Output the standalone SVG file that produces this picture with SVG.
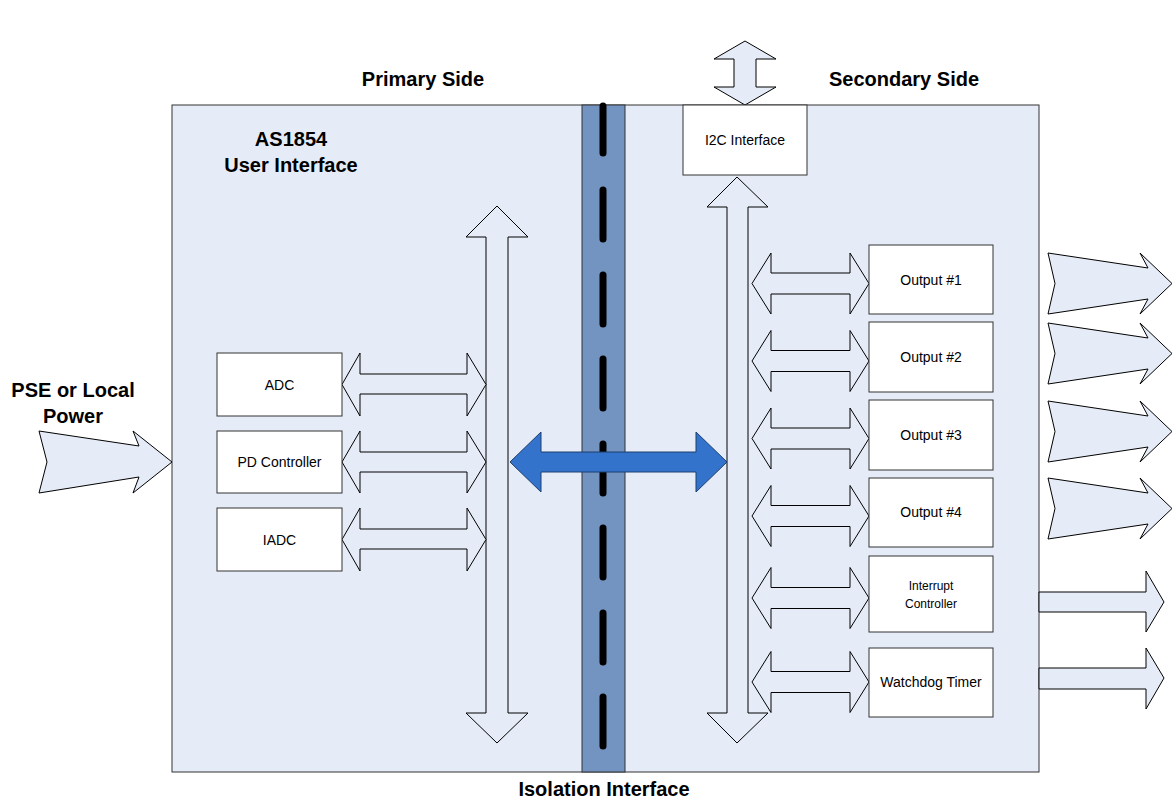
<svg xmlns="http://www.w3.org/2000/svg" width="1172" height="800" viewBox="0 0 1172 800">
<style>
.lbl{font-family:"Liberation Sans",Arial,sans-serif;font-size:20px;font-weight:bold;fill:#000;text-anchor:middle}
.bt{font-family:"Liberation Sans",Arial,sans-serif;font-size:14px;fill:#000;text-anchor:middle}
.bts{font-family:"Liberation Sans",Arial,sans-serif;font-size:12px;fill:#000;text-anchor:middle}
.box{fill:#fff;stroke:#333;stroke-width:1}
.arr{fill:#E6ECF7;stroke:#000;stroke-width:1;stroke-linejoin:miter}
.dash{stroke:#000;stroke-width:7;stroke-linecap:round}
</style>
<rect width="1172" height="800" fill="#fff"/>
<g id="main">
<rect x="172" y="105" width="867" height="667" fill="#E6ECF7" stroke="#333" stroke-width="1"/>
</g>
<g id="isolation">
<rect x="582" y="105" width="43" height="667" fill="#7394C0" stroke="#333" stroke-width="1"/>
<line class="dash" x1="603" y1="106" x2="603" y2="153"/>
<line class="dash" x1="603" y1="190" x2="603" y2="239"/>
<line class="dash" x1="603" y1="275" x2="603" y2="324"/>
<line class="dash" x1="603" y1="359" x2="603" y2="408"/>
<line class="dash" x1="603" y1="444" x2="603" y2="493"/>
<line class="dash" x1="603" y1="528" x2="603" y2="577"/>
<line class="dash" x1="603" y1="613" x2="603" y2="662"/>
<line class="dash" x1="603" y1="697" x2="603" y2="746"/>
</g>
<g id="labels">
<text class="lbl" x="423" y="86">Primary Side</text>
<text class="lbl" x="904" y="86">Secondary Side</text>
<text class="lbl" x="291" y="146">AS1854</text>
<text class="lbl" x="291" y="172">User Interface</text>
<text class="lbl" x="73" y="397">PSE or Local</text>
<text class="lbl" x="73" y="423">Power</text>
<text class="lbl" x="604" y="796">Isolation Interface</text>
</g>
<g id="connectors">
<polygon class="arr" points="39,431 139,446 133,431 172,462 133,493 139,477 39,493 47,462"/>
<polygon class="arr" points="745,41 776,59 756,59 756,87 776,87 745,105 714,87 734,87 734,59 714,59"/>
<polygon class="arr" points="497,206 528,237 508,237 508,713 528,713 497,743 466,713 486,713 486,237 466,237"/>
<polygon class="arr" points="737,177 768,207 748,207 748,713 768,713 737,743 707,713 727,713 727,207 707,207"/>
<polygon class="arr" points="342,384.5 360,353 360,374 467,374 467,353 486,384.5 467,416 467,394 360,394 360,416"/>
<polygon class="arr" points="342,462 360,431 360,452 467,452 467,431 486,462 467,493 467,472 360,472 360,493"/>
<polygon class="arr" points="342,539.5 360,508 360,529 467,529 467,508 486,539.5 467,571 467,549 360,549 360,571"/>
<polygon points="510,462 541,432 541,452 696,452 696,432 727,462 696,492 696,472 541,472 541,492" fill="#3373CB" stroke="#1F3F6F" stroke-width="1"/>
<polygon class="arr" points="752,283.5 771,253 771,273 850,273 850,253 869,283.5 850,314 850,294 771,294 771,314"/>
<polygon class="arr" points="752,361 771,330.5 771,350.5 850,350.5 850,330.5 869,361 850,391.5 850,371.5 771,371.5 771,391.5"/>
<polygon class="arr" points="752,438.5 771,408 771,428 850,428 850,408 869,438.5 850,469 850,449 771,449 771,469"/>
<polygon class="arr" points="752,516 771,485.5 771,505.5 850,505.5 850,485.5 869,516 850,546.5 850,526.5 771,526.5 771,546.5"/>
<polygon class="arr" points="752,598 771,567.5 771,587.5 850,587.5 850,567.5 869,598 850,628.5 850,608.5 771,608.5 771,628.5"/>
<polygon class="arr" points="752,682 771,651.5 771,671.5 850,671.5 850,651.5 869,682 850,712.5 850,692.5 771,692.5 771,712.5"/>
<polygon class="arr" points="1048,253 1148,268 1140,253 1172,283.5 1140,314 1148,299 1048,314 1055,283.5"/>
<polygon class="arr" points="1048,323 1148,338 1140,323 1172,353.5 1140,384 1148,369 1048,384 1055,353.5"/>
<polygon class="arr" points="1048,401 1148,416 1140,401 1172,431.5 1140,462 1148,447 1048,462 1055,431.5"/>
<polygon class="arr" points="1048,478 1148,493 1140,478 1172,508.5 1140,539 1148,524 1048,539 1055,508.5"/>
<polygon class="arr" points="1039,592 1146,592 1146,571 1164,602 1146,632 1146,612 1039,612"/>
<polygon class="arr" points="1039,668 1146,668 1146,648 1164,678 1146,709 1146,689 1039,689"/>
</g>
<g id="i2c">
<rect class="box" x="683" y="105" width="124" height="70"/>
<text class="bt" x="745" y="145">I2C Interface</text>
</g>
<g id="adc">
<rect class="box" x="217" y="353" width="125" height="63"/>
<text class="bt" x="279.5" y="389.5">ADC</text>
</g>
<g id="pd">
<rect class="box" x="217" y="431" width="125" height="62"/>
<text class="bt" x="279.5" y="467">PD Controller</text>
</g>
<g id="iadc">
<rect class="box" x="217" y="508" width="125" height="63"/>
<text class="bt" x="279.5" y="544.5">IADC</text>
</g>
<g id="out1">
<rect class="box" x="869" y="245" width="124" height="69"/>
<text class="bt" x="931" y="285">Output #1</text>
</g>
<g id="out2">
<rect class="box" x="869" y="322" width="124" height="70"/>
<text class="bt" x="931" y="362">Output #2</text>
</g>
<g id="out3">
<rect class="box" x="869" y="400" width="124" height="70"/>
<text class="bt" x="931" y="440">Output #3</text>
</g>
<g id="out4">
<rect class="box" x="869" y="478" width="124" height="69"/>
<text class="bt" x="931" y="517">Output #4</text>
</g>
<g id="intc">
<rect class="box" x="869" y="556" width="124" height="76"/>
<text class="bts" x="931" y="590">Interrupt</text>
<text class="bts" x="931" y="608">Controller</text>
</g>
<g id="wdt">
<rect class="box" x="869" y="648" width="124" height="69"/>
<text class="bt" x="931" y="687">Watchdog Timer</text>
</g>
</svg>
